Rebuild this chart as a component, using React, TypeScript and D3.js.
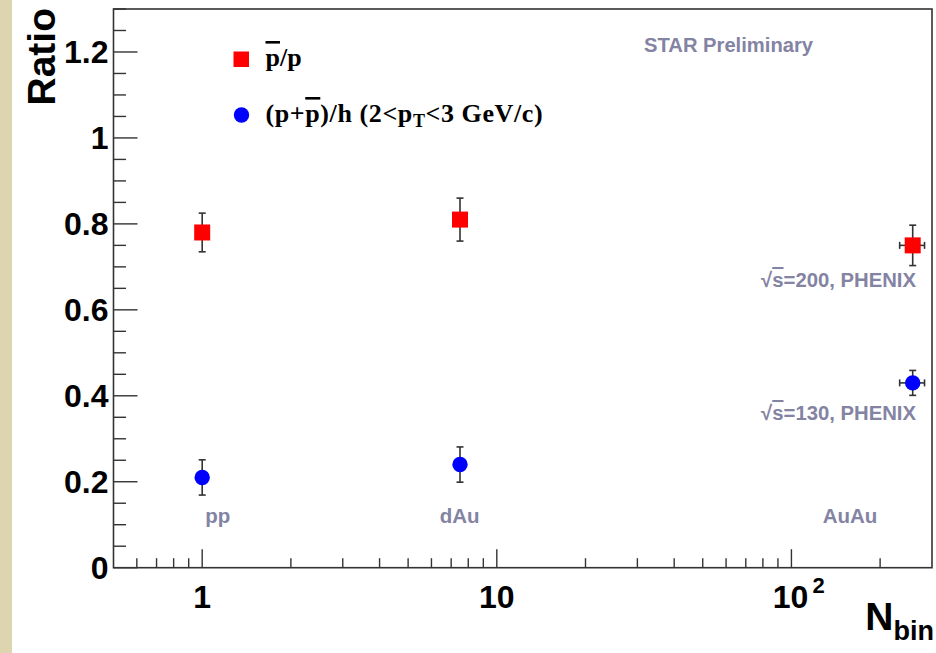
import React from 'react';
import * as d3 from 'd3';

// data
const systems = ['pp', 'dAu', 'AuAu'];
const nbin = [1, 7.5, 258];
const nbinErr = [0, 0, 25];
const pbarP = [0.78, 0.81, 0.75];
const pbarPErr = [0.045, 0.05, 0.047];
const baryonRatio = [0.21, 0.24, 0.43];
const baryonRatioErr = [0.041, 0.041, 0.029];

const xMajorTicks = [1, 10, 100];
const yMajorTicks = [0, 0.2, 0.4, 0.6, 0.8, 1, 1.2];
const yTickLabels = ['0', '0.2', '0.4', '0.6', '0.8', '1', '1.2'];

// system labels (data coords)
const systemLabelX = [1.13, 7.48, 158];
const systemLabelY = 0.104;

const App = () => {
    const width = 936;
    const height = 653;
    const margin = { top: 9, right: 4, bottom: 85.3, left: 113.5 };
    const innerRight = width - margin.right;
    const innerBottom = height - margin.bottom;

    const x = d3.scaleLog().domain([0.5, 300]).range([margin.left, innerRight]);
    const y = d3.scaleLinear().domain([0, 1.3]).range([innerBottom, margin.top]);

    const xMinor: number[] = [];
    [0.1, 1, 10, 100].forEach(dec => {
        for (let k = 2; k <= 9; k++) {
            const v = k * dec;
            if (v > 0.5 && v < 300) xMinor.push(v);
        }
    });
    const yMinor = d3.range(0, 1.3001, 0.05).filter(v => Math.abs(v / 0.2 - Math.round(v / 0.2)) > 1e-6);

    const axisColor = '#333';
    const noteColor = '#8383a3';
    const sans = 'Liberation Sans, Arial, sans-serif';
    const serif = 'Liberation Serif, Times New Roman, serif';

    const errorBars = (vals: number[], errs: number[], key: string) =>
        nbin.map((n, i) => {
            const cx = x(n);
            const cy = y(vals[i]);
            const y0 = y(vals[i] - errs[i]);
            const y1 = y(vals[i] + errs[i]);
            const parts = [
                <line key="v" x1={cx} x2={cx} y1={y0} y2={y1} />,
                <line key="c0" x1={cx - 3.5} x2={cx + 3.5} y1={y0} y2={y0} />,
                <line key="c1" x1={cx - 3.5} x2={cx + 3.5} y1={y1} y2={y1} />
            ];
            if (nbinErr[i] > 0) {
                const x0 = x(n - nbinErr[i]);
                const x1 = x(n + nbinErr[i]);
                parts.push(
                    <line key="h" x1={x0} x2={x1} y1={cy} y2={cy} />,
                    <line key="h0" x1={x0} x2={x0} y1={cy - 3.5} y2={cy + 3.5} />,
                    <line key="h1" x1={x1} x2={x1} y1={cy - 3.5} y2={cy + 3.5} />
                );
            }
            return <g key={`${key}-${i}`}>{parts}</g>;
        });

    return (
        <svg width={width} height={height} style={{ position: 'absolute', left: 0, top: 0 }}>
            <rect x={0} y={0} width={width} height={height} fill="#fff" />
            <rect x={0} y={0} width={12} height={height} fill="#ddd4b0" />

            {/* frame */}
            <rect x={margin.left} y={margin.top} width={innerRight - margin.left} height={innerBottom - margin.top}
                fill="#fff" stroke={axisColor} strokeWidth={1.6} />

            {/* ticks */}
            <g stroke={axisColor} strokeWidth={1.4}>
                {yMajorTicks.map(v => (
                    <line key={`ym-${v}`} x1={margin.left} x2={margin.left + 24} y1={y(v)} y2={y(v)} />
                ))}
                {yMinor.map(v => (
                    <line key={`yn-${v}`} x1={margin.left} x2={margin.left + 12.5} y1={y(v)} y2={y(v)} />
                ))}
                {xMajorTicks.map(v => (
                    <line key={`xm-${v}`} x1={x(v)} x2={x(v)} y1={innerBottom} y2={innerBottom - 18.5} />
                ))}
                {xMinor.map(v => (
                    <line key={`xn-${v}`} x1={x(v)} x2={x(v)} y1={innerBottom} y2={innerBottom - 9.5} />
                ))}
            </g>

            {/* tick labels */}
            <g fontFamily={sans} fontWeight="bold" fontSize={32} fill="#000">
                {yMajorTicks.map((v, i) => (
                    <text key={`yl-${v}`} x={108.5} y={y(v) + 11.5} textAnchor="end">{yTickLabels[i]}</text>
                ))}
                <text x={x(1)} y={608} textAnchor="middle">1</text>
                <text x={x(10)} y={608} textAnchor="middle">10</text>
                <text x={x(100) - 1} y={608} textAnchor="middle">10</text>
                <text x={x(100) + 21} y={593} fontSize={22} textAnchor="start">2</text>
            </g>

            {/* axis titles */}
            <text transform="translate(55,8) rotate(-90)" textAnchor="end" fontFamily={sans} fontWeight="bold"
                fontSize={39}>Ratio</text>
            <text x={934} y={630} textAnchor="end" fontFamily={sans} fontWeight="bold" fontSize={39}>
                N<tspan fontSize={27} dy={10}>bin</tspan>
            </text>

            {/* error bars */}
            <g stroke="#333" strokeWidth={1.6}>
                {errorBars(pbarP, pbarPErr, 'r')}
                {errorBars(baryonRatio, baryonRatioErr, 'b')}
            </g>

            {/* markers */}
            {nbin.map((n, i) => (
                <rect key={`sq-${i}`} x={x(n) - 8} y={y(pbarP[i]) - 8} width={16} height={16} fill="#ff0000" />
            ))}
            {nbin.map((n, i) => (
                <circle key={`ci-${i}`} cx={x(n)} cy={y(baryonRatio[i])} r={7.7} fill="#0000ff" />
            ))}

            {/* legend */}
            <rect x={233.5} y={51.5} width={15.5} height={15.5} fill="#ff0000" />
            <text x={265.5} y={66} fontFamily={serif} fontWeight="bold" fontSize={26}>
                <tspan style={{ textDecoration: 'overline' }}>p</tspan>/p
            </text>
            <circle cx={241.5} cy={115} r={7.7} fill="#0000ff" />
            <text x={265.5} y={122} fontFamily={serif} fontWeight="bold" fontSize={26} letterSpacing={0.6}>
                (p+<tspan style={{ textDecoration: 'overline' }}>p</tspan>)/h (2&lt;p<tspan fontSize={18} dy={5}>T</tspan>
                <tspan dy={-5}>&lt;3 GeV/c)</tspan>
            </text>

            {/* annotations */}
            <g fontFamily={sans} fontWeight="bold" fill={noteColor}>
                <text x={644} y={51.5} fontSize={20.2}>STAR Preliminary</text>
                {systems.map((s, i) => (
                    <text key={s} x={x(systemLabelX[i])} y={y(systemLabelY)} fontSize={20.5} textAnchor="middle">{s}</text>
                ))}
                <text x={916} y={287} fontSize={20.3} textAnchor="end">
                    √<tspan style={{ textDecoration: 'overline' }}>s</tspan>=200, PHENIX
                </text>
                <text x={916} y={420} fontSize={20.3} textAnchor="end">
                    √<tspan style={{ textDecoration: 'overline' }}>s</tspan>=130, PHENIX
                </text>
            </g>
        </svg>
    );
};

export default App;
